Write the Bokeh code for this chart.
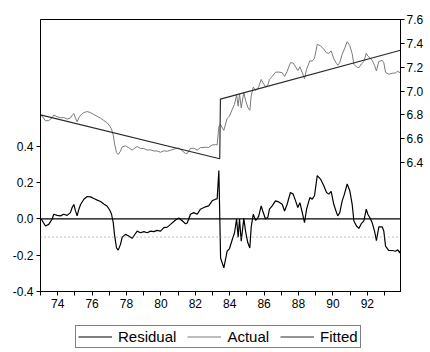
import numpy as np
from bokeh.plotting import figure
from bokeh.layouts import column
from bokeh.models import (Range1d, LinearAxis, FixedTicker, PrintfTickFormatter,
                          Span, Legend, LegendItem, ColumnDataSource)
from bokeh.embed import file_html
from bokeh.resources import INLINE

# ---- data ----
years = [1973.04, 1973.29, 1973.48, 1973.68, 1973.77, 1973.97, 1974.16, 1974.35, 1974.55, 1974.74,
         1974.84, 1974.94, 1975.03, 1975.13, 1975.23, 1975.33, 1975.52, 1975.72, 1975.91, 1976.10,
         1976.30, 1976.49, 1976.68, 1976.88, 1977.03, 1977.13, 1977.23, 1977.30, 1977.42, 1977.52,
         1977.65, 1977.75, 1977.94, 1978.13, 1978.33, 1978.42, 1978.62, 1978.81, 1979.01, 1979.20,
         1979.40, 1979.59, 1979.78, 1979.98, 1980.17, 1980.37, 1980.56, 1980.85, 1981.04, 1981.24,
         1981.43, 1981.53, 1981.72, 1981.91, 1982.11, 1982.30, 1982.59, 1982.78, 1982.98, 1983.17,
         1983.27, 1983.37, 1983.47, 1983.66, 1983.85, 1983.99, 1984.15, 1984.28, 1984.40, 1984.49,
         1984.57, 1984.67, 1984.82, 1984.92, 1985.05, 1985.17, 1985.25, 1985.37, 1985.50, 1985.60,
         1985.69, 1985.83, 1985.92, 1986.08, 1986.22, 1986.31, 1986.47, 1986.66, 1986.85, 1987.05,
         1987.19, 1987.34, 1987.53, 1987.69, 1987.83, 1987.96, 1988.08, 1988.22, 1988.35, 1988.47,
         1988.66, 1988.80, 1988.93, 1989.09, 1989.28, 1989.47, 1989.63, 1989.76, 1989.90, 1990.05,
         1990.21, 1990.28, 1990.40, 1990.54, 1990.67, 1990.83, 1990.98, 1991.12, 1991.22, 1991.37,
         1991.51, 1991.65, 1991.80, 1991.94, 1992.03, 1992.15, 1992.28, 1992.42, 1992.53, 1992.67,
         1992.87, 1992.96, 1993.06, 1993.25, 1993.45, 1993.64, 1993.77, 1993.89, 1993.93]

residual = [0.000, -0.039, -0.030, 0.000, 0.026, 0.020, 0.017, 0.026, 0.020, 0.035,
            0.063, 0.080, 0.046, 0.017, 0.054, 0.080, 0.109, 0.124, 0.122, 0.113,
            0.104, 0.096, 0.083, 0.070, 0.048, 0.026, -0.020, -0.085, -0.160, -0.172,
            -0.140, -0.100, -0.085, -0.094, -0.107, -0.094, -0.067, -0.076, -0.070, -0.076,
            -0.067, -0.070, -0.063, -0.067, -0.048, -0.045, -0.030, -0.006, 0.005, -0.010,
            -0.026, -0.022, 0.026, 0.035, 0.026, 0.054, 0.067, 0.072, 0.100, 0.109,
            0.110, 0.267, -0.215, -0.270, -0.178, -0.163, -0.113, -0.076, 0.000, -0.100,
            0.000, -0.122, 0.003, -0.067, -0.130, -0.160, -0.044, 0.026, -0.007, 0.000,
            0.017, 0.072, 0.044, 0.000, 0.010, 0.054, 0.072, 0.100, 0.094, 0.081,
            0.044, 0.081, 0.146, 0.137, 0.100, 0.063, 0.090, 0.035, -0.020, 0.054,
            0.118, 0.109, 0.128, 0.239, 0.220, 0.183, 0.146, 0.137, 0.152, 0.081,
            0.035, 0.017, 0.035, 0.100, 0.137, 0.193, 0.156, 0.081, -0.011, -0.039,
            -0.052, -0.026, -0.011, 0.054, 0.026, 0.007, -0.020, -0.067, -0.119, -0.044,
            -0.044, -0.067, -0.150, -0.174, -0.174, -0.178, -0.170, -0.187, -0.174]

# fitted: trend with a break (read at its ends)
fitted_years = [1973.00, 1983.42, 1983.46, 1993.93]
fitted_vals = [6.800, 6.433, 6.933, 7.342]

# actual = fitted + residual
actual = list(np.interp(years, fitted_years, fitted_vals) + np.array(residual))

res_ticks = [-0.4, -0.2, 0.0, 0.2, 0.4]
lev_ticks = [6.4, 6.6, 6.8, 7.0, 7.2, 7.4, 7.6]
year_labels = {1974: "74", 1976: "76", 1978: "78", 1980: "80", 1982: "82",
               1984: "84", 1986: "86", 1988: "88", 1990: "90", 1992: "92"}
odd_years = [1973, 1975, 1977, 1979, 1981, 1983, 1985, 1987, 1989, 1991, 1993]
se_level = -0.1
series_names = ["Residual", "Actual", "Fitted"]

FONT = "Liberation Sans"
C_RES, C_ACT, C_FIT = "black", "#7a7a7a", "#2a2a2a"

p = figure(width=430, height=313, output_backend="svg", toolbar_location=None,
           x_range=Range1d(1973.0, 1993.93), y_range=Range1d(-0.4, 1.1),
           min_border_left=40, min_border_right=30, min_border_top=19, min_border_bottom=22)
p.background_fill_color = "white"
p.border_fill_color = "white"
p.outline_line_color = "black"
p.outline_line_width = 1
p.xgrid.visible = False
p.ygrid.visible = False

p.extra_y_ranges = {"lev": Range1d(5.32, 7.6)}

# reference lines
p.add_layout(Span(location=0.0, dimension="width", line_color="black", line_width=1.3))
p.add_layout(Span(location=se_level, dimension="width", line_color="#888888",
                  line_width=1, line_dash="1 3"))

src = ColumnDataSource(dict(x=years, res=residual, act=actual))
fsrc = ColumnDataSource(dict(x=fitted_years, fit=fitted_vals))

p.line("x", "act", source=src, y_range_name="lev", line_color=C_ACT, line_width=1)
p.line("x", "fit", source=fsrc, y_range_name="lev", line_color=C_FIT, line_width=1.2)
p.line("x", "res", source=src, line_color=C_RES, line_width=1.2)

# left axis
ya = p.yaxis[0]
ya.ticker = FixedTicker(ticks=res_ticks)
ya.formatter = PrintfTickFormatter(format="%.1f")
ya.major_tick_in = 0
ya.major_tick_out = 4
ya.major_label_standoff = 3

# right axis
ra = LinearAxis(y_range_name="lev", ticker=FixedTicker(ticks=lev_ticks),
                formatter=PrintfTickFormatter(format="%.1f"))
ra.major_tick_in = 0
ra.major_tick_out = 4
ra.major_label_standoff = 2
p.add_layout(ra, "right")

# bottom axis
xa = p.xaxis[0]
xa.ticker = FixedTicker(ticks=sorted(year_labels.keys()), minor_ticks=odd_years)
xa.major_label_overrides = {k: v for k, v in year_labels.items()}
xa.major_tick_in = 0
xa.major_tick_out = 4
xa.minor_tick_in = 0
xa.minor_tick_out = 4
xa.major_label_standoff = 3

for ax in (ya, ra, xa):
    ax.axis_line_color = "black"
    ax.axis_line_width = 1
    ax.major_tick_line_color = "black"
    ax.minor_tick_line_color = "black" if ax is xa else None
    ax.major_label_text_font = FONT
    ax.major_label_text_font_size = "12px"
    ax.major_label_text_color = "black"

# legend strip below the chart (its frame lines up with the chart frame)
lg = figure(width=430, height=39, output_backend="svg", toolbar_location=None,
            x_axis_type=None, y_axis_type=None, min_border=0,
            x_range=Range1d(0, 1), y_range=Range1d(0, 1))
lg.outline_line_color = None
lg.xgrid.visible = False
lg.ygrid.visible = False
lg.background_fill_color = "white"
lg.border_fill_color = "white"
# stand-in renderers (kept outside the visible range) that only give the legend its glyphs
d_res = lg.line(x=[0, 1], y=[-5, -5], line_color=C_RES, line_width=1.2)
d_act = lg.line(x=[0, 1], y=[-5, -5], line_color=C_ACT, line_width=1)
d_fit = lg.line(x=[0, 1], y=[-5, -5], line_color=C_FIT, line_width=1.2)

legend = Legend(items=[LegendItem(label=series_names[0], renderers=[d_res]),
                       LegendItem(label=series_names[1], renderers=[d_act]),
                       LegendItem(label=series_names[2], renderers=[d_fit])],
                orientation="horizontal", location=(35, 4),
                border_line_color="black", border_line_width=1,
                background_fill_color="white", background_fill_alpha=1,
                label_text_font=FONT, label_text_font_size="15px", label_text_color="black",
                glyph_width=34, glyph_height=15, label_height=15,
                label_standoff=6, spacing=11, padding=2, margin=0)
lg.add_layout(legend)

layout = column(p, lg, spacing=0)
open("out.html", "w").write(file_html(layout, INLINE))
